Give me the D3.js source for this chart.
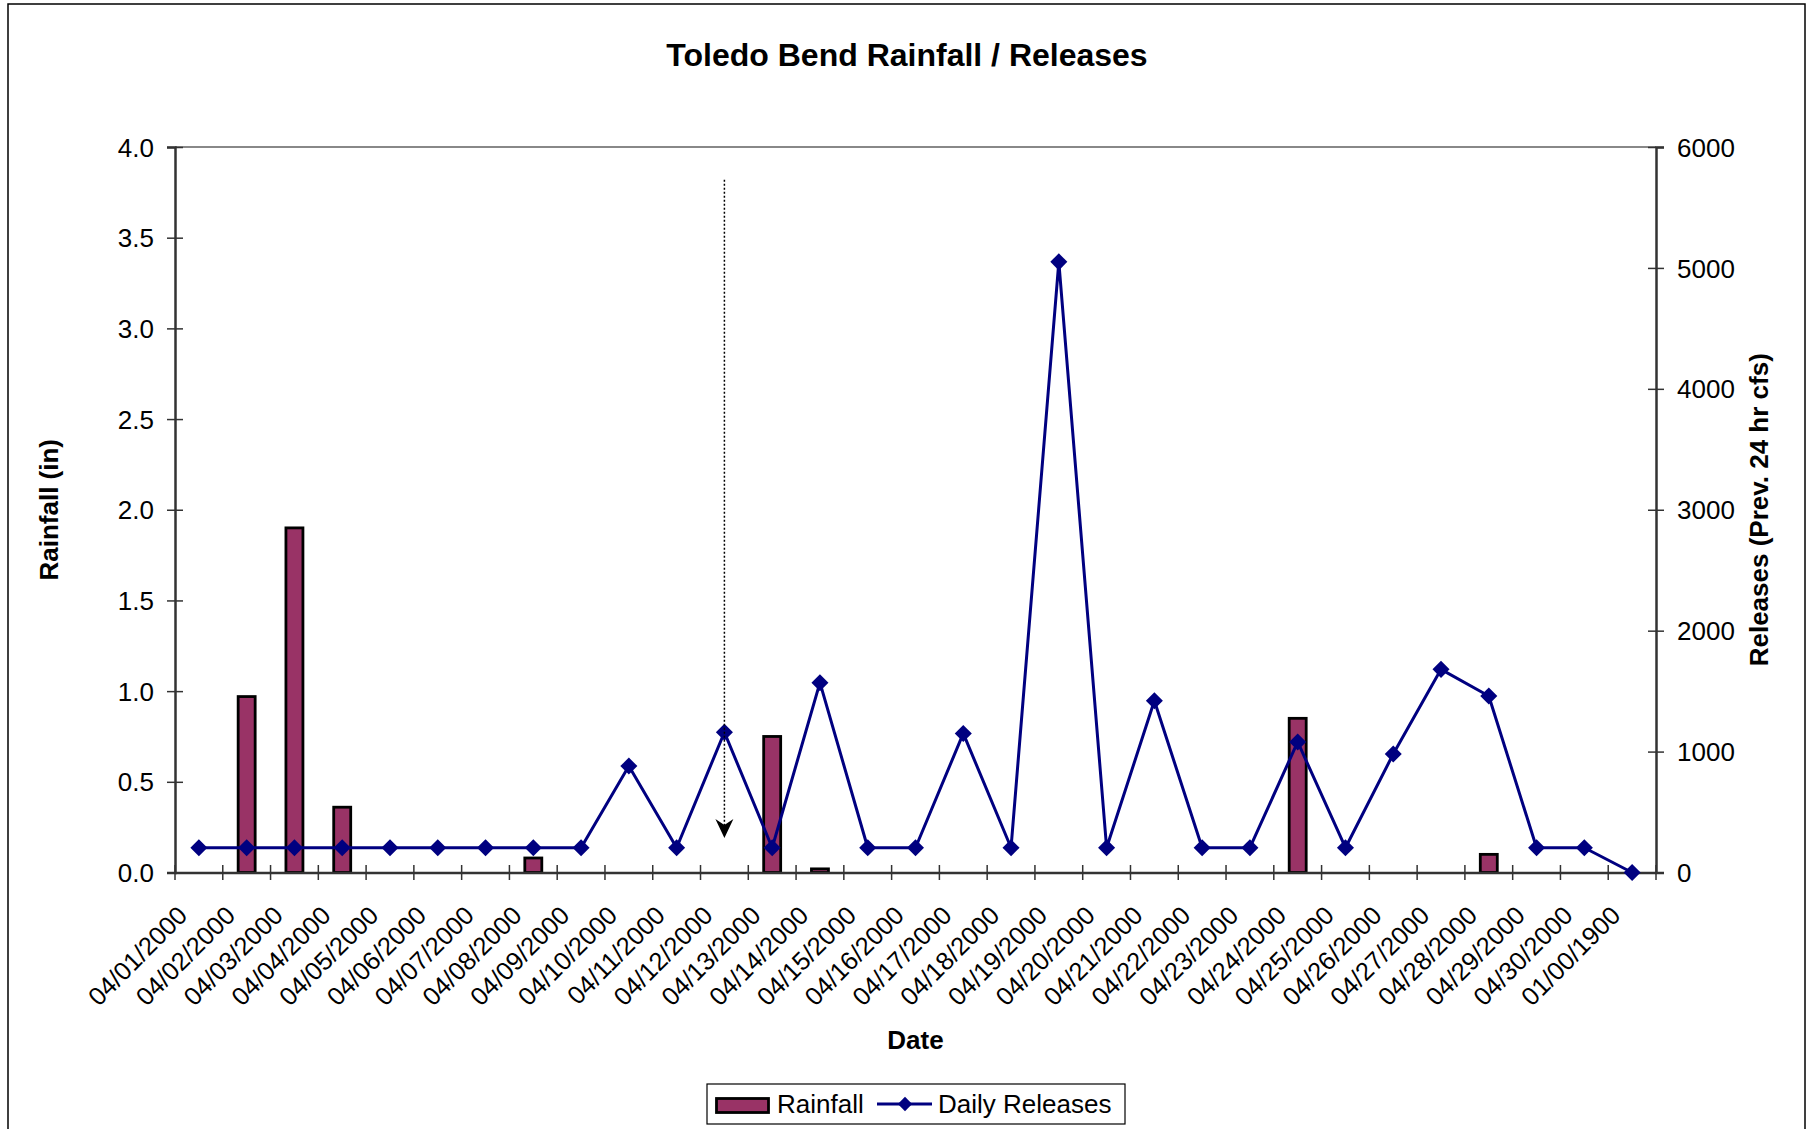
<!DOCTYPE html>
<html>
<head>
<meta charset="utf-8">
<script src="https://cdn.jsdelivr.net/npm/d3@7"></script>
<style>
  html, body { margin: 0; padding: 0; background: #fff; }
  svg { display: block; font-family: "Liberation Sans", Arial, sans-serif; }
</style>
</head>
<body>
<svg id="chart" width="1815" height="1129"></svg>
<script>
// ---------- data ----------
const categories = [
  "04/01/2000","04/02/2000","04/03/2000","04/04/2000","04/05/2000","04/06/2000",
  "04/07/2000","04/08/2000","04/09/2000","04/10/2000","04/11/2000","04/12/2000",
  "04/13/2000","04/14/2000","04/15/2000","04/16/2000","04/17/2000","04/18/2000",
  "04/19/2000","04/20/2000","04/21/2000","04/22/2000","04/23/2000","04/24/2000",
  "04/25/2000","04/26/2000","04/27/2000","04/28/2000","04/29/2000","04/30/2000",
  "01/00/1900"
];
const rainfall = [
  0, 0.97, 1.90, 0.36, 0, 0,
  0, 0.08, 0, 0, 0, 0,
  0.75, 0.02, 0, 0, 0, 0,
  0, 0, 0, 0, 0, 0.85,
  0, 0, 0, 0.10, 0, 0,
  0
];
const releases = [
  205, 205, 205, 205, 205, 205,
  205, 205, 205, 880, 205, 1160,
  205, 1570, 205, 205, 1150, 205,
  5050, 205, 1420, 205, 205, 1080,
  205, 980, 1680, 1460, 205, 205,
  0
];
const rainTicks = [0, 0.5, 1.0, 1.5, 2.0, 2.5, 3.0, 3.5, 4.0];
const releaseTicks = [0, 1000, 2000, 3000, 4000, 5000, 6000];
const arrowNote = { category: "04/12/2000", from: 3.82, to: 0.19 };

const titleText = "Toledo Bend Rainfall / Releases";
const leftTitle = "Rainfall (in)";
const rightTitle = "Releases (Prev. 24 hr cfs)";
const xTitle = "Date";
const legendLabels = ["Rainfall", "Daily Releases"];

// ---------- layout ----------
const svg = d3.select("#chart");
const plot = { left: 175, right: 1656, top: 147, bottom: 872.5 };
const barColor = "#993366";
const lineColor = "#000080";
const axisColor = "#333";
const fontPx = 26;

// outer frame
svg.append("rect")
  .attr("x", 8).attr("y", 4).attr("width", 1797).attr("height", 1200)
  .attr("fill", "#fff").attr("stroke", "#000").attr("stroke-width", 1.5);

const x = d3.scaleBand().domain(categories).range([plot.left, plot.right]).padding(0);
const yL = d3.scaleLinear().domain([0, 4]).range([plot.bottom, plot.top]);
const yR = d3.scaleLinear().domain([0, 6000]).range([plot.bottom, plot.top]);
const bw = x.bandwidth();
const cx = c => x(c) + bw / 2;

// plot area top border
svg.append("line")
  .attr("x1", plot.left).attr("x2", plot.right)
  .attr("y1", plot.top).attr("y2", plot.top)
  .attr("stroke", "#888").attr("stroke-width", 2);

// title
svg.append("text")
  .attr("x", 907).attr("y", 66)
  .attr("text-anchor", "middle")
  .attr("font-size", 32).attr("font-weight", "bold")
  .text(titleText);

// ---------- bars ----------
const barW = 17;
svg.append("g").selectAll("rect")
  .data(categories.map((c, i) => ({ c, v: rainfall[i] })).filter(d => d.v > 0))
  .join("rect")
  .attr("x", d => cx(d.c) - barW / 2)
  .attr("y", d => yL(d.v))
  .attr("width", barW)
  .attr("height", d => yL(0) - yL(d.v))
  .attr("fill", barColor)
  .attr("stroke", "#000")
  .attr("stroke-width", 2.8);

// ---------- axes ----------
// left axis
const gL = svg.append("g").attr("transform", `translate(${plot.left},0)`)
  .call(d3.axisLeft(yL).tickValues(rainTicks).tickFormat(d3.format(".1f"))
    .tickSize(8).tickPadding(13));
gL.select(".domain").attr("stroke", axisColor).attr("stroke-width", 2.5);
gL.selectAll(".tick line").attr("x1", 8).attr("stroke", axisColor).attr("stroke-width", 1.5);
gL.selectAll(".tick text").attr("font-size", fontPx).attr("fill", "#000")
  .attr("font-family", "Liberation Sans, Arial, sans-serif").attr("dy", "0.35em");

// right axis
const gR = svg.append("g").attr("transform", `translate(${plot.right},0)`)
  .call(d3.axisRight(yR).tickValues(releaseTicks).tickFormat(d3.format("d"))
    .tickSize(8).tickPadding(13));
gR.select(".domain").attr("stroke", axisColor).attr("stroke-width", 2.5);
gR.selectAll(".tick line").attr("x1", -8).attr("stroke", axisColor).attr("stroke-width", 1.5);
gR.selectAll(".tick text").attr("font-size", fontPx).attr("fill", "#000")
  .attr("font-family", "Liberation Sans, Arial, sans-serif").attr("dy", "0.35em");

// bottom axis (labels at category centres)
const gB = svg.append("g").attr("transform", `translate(0,${plot.bottom})`)
  .call(d3.axisBottom(x).tickSize(0).tickSizeOuter(0));
gB.select(".domain").attr("stroke", axisColor).attr("stroke-width", 2.5);
gB.selectAll(".tick text")
  .attr("font-size", 25.5).attr("fill", "#000")
  .attr("font-family", "Liberation Sans, Arial, sans-serif")
  .attr("text-anchor", "end")
  .attr("y", 0).attr("dy", 0)
  .attr("transform", "translate(-10,44.5) rotate(-45)");

// crossing tick marks at category boundaries
const boundaries = categories.map(c => x(c)).concat([x(categories[categories.length - 1]) + bw]);
svg.append("g").selectAll("line").data(boundaries).join("line")
  .attr("x1", d => d).attr("x2", d => d)
  .attr("y1", plot.bottom - 7.5).attr("y2", plot.bottom + 7.5)
  .attr("stroke", axisColor).attr("stroke-width", 1.5);

// ---------- line series ----------
const pts = categories.map((c, i) => ({ c, v: releases[i] }));
svg.append("path")
  .datum(pts)
  .attr("d", d3.line().x(d => cx(d.c)).y(d => yR(d.v)))
  .attr("fill", "none").attr("stroke", lineColor).attr("stroke-width", 3)
  .attr("stroke-linejoin", "round");
const diamond = d3.symbol().type(d3.symbolDiamond2).size(185);
svg.append("g").selectAll("path").data(pts).join("path")
  .attr("transform", d => `translate(${cx(d.c)},${yR(d.v)})`)
  .attr("d", diamond)
  .attr("fill", lineColor);

// ---------- annotation arrow ----------
const ax = cx(arrowNote.category);
const aTop = yL(arrowNote.from), aTip = yL(arrowNote.to);
svg.append("line")
  .attr("x1", ax).attr("x2", ax).attr("y1", aTop).attr("y2", aTip - 8)
  .attr("stroke", "#000").attr("stroke-width", 1.5).attr("stroke-dasharray", "2,2");
svg.append("path")
  .attr("d", `M${ax},${aTip} L${ax - 9},${aTip - 19} L${ax},${aTip - 13} L${ax + 9},${aTip - 19} Z`)
  .attr("fill", "#000");

// ---------- axis titles ----------
svg.append("text")
  .attr("transform", `translate(58,${(plot.top + plot.bottom) / 2}) rotate(-90)`)
  .attr("text-anchor", "middle").attr("font-size", 26).attr("font-weight", "bold")
  .text(leftTitle);
svg.append("text")
  .attr("transform", `translate(1768,${(plot.top + plot.bottom) / 2}) rotate(-90)`)
  .attr("text-anchor", "middle").attr("font-size", 26).attr("font-weight", "bold")
  .text(rightTitle);
svg.append("text")
  .attr("x", (plot.left + plot.right) / 2).attr("y", 1049)
  .attr("text-anchor", "middle").attr("font-size", 26).attr("font-weight", "bold")
  .text(xTitle);

// ---------- legend ----------
const lg = svg.append("g");
lg.append("rect").attr("x", 707).attr("y", 1084).attr("width", 418).attr("height", 40)
  .attr("fill", "#fff").attr("stroke", "#000").attr("stroke-width", 1.2);
lg.append("rect").attr("x", 716.5).attr("y", 1098.5).attr("width", 52).attr("height", 14)
  .attr("fill", barColor).attr("stroke", "#000").attr("stroke-width", 2.8);
lg.append("text").attr("x", 777).attr("y", 1113).attr("font-size", 26).text(legendLabels[0]);
lg.append("line").attr("x1", 877).attr("x2", 932).attr("y1", 1104).attr("y2", 1104)
  .attr("stroke", lineColor).attr("stroke-width", 3);
lg.append("path").attr("transform", "translate(905,1104)")
  .attr("d", d3.symbol().type(d3.symbolDiamond2).size(130)).attr("fill", lineColor);
lg.append("text").attr("x", 938).attr("y", 1113).attr("font-size", 26).text(legendLabels[1]);
</script>
</body>
</html>
